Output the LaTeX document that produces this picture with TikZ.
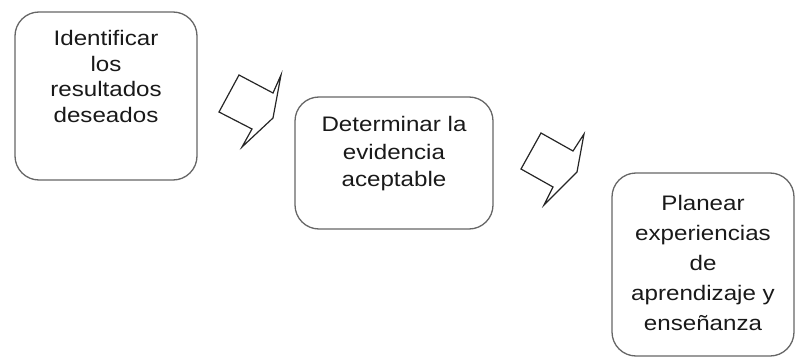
\documentclass[tikz,border=0pt]{standalone}
\usepackage{fontspec}
\setmainfont{Liberation Sans}
\newfontfamily\widesans[FakeStretch=1.15]{Liberation Sans}
\begin{document}
\begin{tikzpicture}[x=1pt,y=-1pt,
  stagebox/.style={draw=black!60, line width=1.3pt, rounded corners=24pt, inner sep=0pt},
  stagetext/.style={anchor=north, align=center, inner sep=0pt, text=black!90},
  blockarrow/.style={draw=black!85, line width=1.2pt, fill=white, line join=miter}]
\useasboundingbox (0,0) rectangle (799,358);
% boxes
\node[stagebox, minimum width=182pt, minimum height=168pt] (b1) at (106,96) {};
\node[stagebox, minimum width=198pt, minimum height=132pt] (b2) at (394,163) {};
\node[stagebox, minimum width=182pt, minimum height=183pt] (b3) at (703,264.5) {};
% texts
\node[stagetext, font=\widesans\fontsize{21}{25.5}\selectfont] (t1) at ([yshift=-19pt]b1.north) {Identificar\\los\\resultados\\deseados};
\node[stagetext, font=\widesans\fontsize{21}{27.5}\selectfont] (t2) at ([yshift=-20pt]b2.north) {Determinar la\\evidencia\\aceptable};
\node[stagetext, font=\widesans\fontsize{21}{30}\selectfont] (t3) at ([yshift=-23pt]b3.north) {Planear\\experiencias\\de\\aprendizaje y\\enseñanza};
% block arrows
\draw[blockarrow] (239,75) -- (273,93) -- (281,75) -- (273,118) -- (242,147) -- (252,129) -- (219,112) -- cycle;
\draw[blockarrow] (541,133) -- (573,151) -- (584,134) -- (577,172) -- (544,205) -- (553,187) -- (521,169) -- cycle;
\end{tikzpicture}
\end{document}
